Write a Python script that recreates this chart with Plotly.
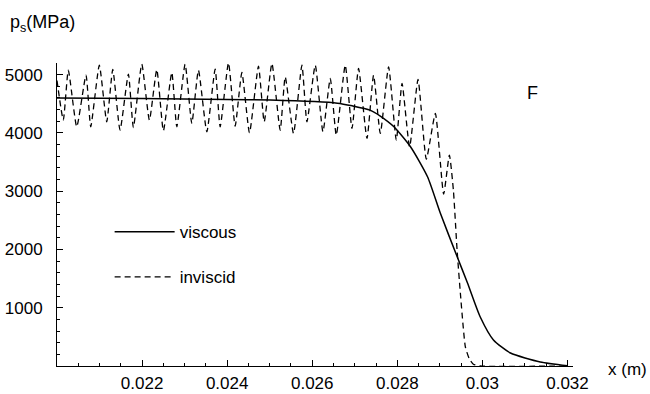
import numpy as np
import plotly.graph_objects as go

# ---- data (x in m, p_s in MPa) ----
viscous_x = [0.0200, 0.0220, 0.0240, 0.02501, 0.02659, 0.02694, 0.02736, 0.02760,
             0.02792, 0.02831, 0.02871, 0.02901, 0.02941, 0.02965, 0.02995,
             0.03026, 0.03066, 0.03136, 0.0320]
viscous_p = [4600, 4590, 4575, 4563, 4511, 4465, 4391, 4288,
             4105, 3762, 3247, 2624, 1870, 1424, 840,
             446, 223, 70, 5]

inviscid_x = [0.020000, 0.020148, 0.020266, 0.020464, 0.020682, 0.020793, 0.020995,
              0.021169, 0.021311, 0.021482, 0.021678, 0.021795, 0.021993, 0.022172,
              0.022346, 0.022501, 0.022699, 0.022816, 0.023012, 0.023169, 0.023325,
              0.023522, 0.023718, 0.023835, 0.024031, 0.024188, 0.024346, 0.024525,
              0.024736, 0.024871, 0.025052, 0.025247, 0.025365, 0.025560, 0.025758,
              0.025875, 0.026071, 0.026252, 0.026424, 0.026565, 0.026776, 0.026934,
              0.027089, 0.027287, 0.027442, 0.027600, 0.027795, 0.027976, 0.028111,
              0.028289, 0.028487, 0.028682, 0.028894, 0.029089, 0.029224, 0.029318,
              0.029405, 0.029482, 0.029600, 0.029694, 0.029788, 0.029953, 0.032000]
inviscid_p = [4900, 4220, 5077, 4105, 4991, 4105, 5163,
              4191, 5089, 4048, 5009, 4093, 5180, 4220,
              5089, 4036, 5037, 4105, 5180, 4163, 5077,
              4020, 5094, 4105, 5203, 4117, 5037, 4002,
              5146, 4191, 5192, 4048, 4962, 3991, 5163,
              4191, 5163, 4020, 4934, 3962, 5163, 4077,
              5106, 3905, 4991, 3991, 5134, 3877, 4849,
              3762, 4917, 3550, 4334, 2950, 3619, 3019,
              1990, 1252, 326, 120, 30, 0, 0]

x_tickvals = [0.022, 0.024, 0.026, 0.028, 0.030, 0.032]
x_ticktext = ["0.022", "0.024", "0.026", "0.028", "0.03", "0.032"]
y_tickvals = [1000, 2000, 3000, 4000, 5000]
y_ticktext = ["1000", "2000", "3000", "4000", "5000"]

FONT = "Liberation Sans, Arial, Helvetica, sans-serif"

fig = go.Figure()
fig.add_trace(go.Scatter(x=viscous_x, y=viscous_p, mode="lines", name="viscous",
                         line=dict(color="black", width=1.5, shape="spline", smoothing=0.6),
                         legendgroup="a"))
fig.add_trace(go.Scatter(x=inviscid_x, y=inviscid_p, mode="lines", name="inviscid",
                         line=dict(color="black", width=1.3, dash="6px,4px",
                                   shape="spline", smoothing=0.5),
                         legendgroup="b"))

fig.update_layout(
    width=650, height=394,
    margin=dict(l=57, r=77, t=63, b=28, autoexpand=False),
    paper_bgcolor="white", plot_bgcolor="white",
    font=dict(family=FONT, size=17, color="black"),
    showlegend=True,
    legend=dict(x=0.102, y=0.501, xanchor="left", yanchor="top",
                bgcolor="rgba(0,0,0,0)", font=dict(size=17),
                itemwidth=60, tracegroupgap=20, traceorder="grouped"),
    xaxis=dict(range=[0.020, 0.03213], showgrid=False, zeroline=False, automargin=False,
               showline=True, linecolor="black", linewidth=1,
               tickmode="array", tickvals=x_tickvals, ticktext=x_ticktext,
               ticks="inside", ticklen=6, tickcolor="black", tickwidth=1,
               ticklabelstandoff=2,
               minor=dict(tickmode="array",
                          tickvals=list(np.round(np.arange(0.0205, 0.0321, 0.0005), 5)),
                          ticks="inside", ticklen=3, tickcolor="black", tickwidth=1)),
    yaxis=dict(range=[0, 5200], showgrid=False, zeroline=False, automargin=False,
               showline=True, linecolor="black", linewidth=1,
               tickmode="array", tickvals=y_tickvals, ticktext=y_ticktext,
               ticks="inside", ticklen=6, tickcolor="black", tickwidth=1,
               ticklabelstandoff=10,
               minor=dict(tickmode="array",
                          tickvals=list(np.arange(200, 5200, 200)),
                          ticks="inside", ticklen=3, tickcolor="black", tickwidth=1)),
)

fig.add_annotation(text="p<sub>s</sub>(MPa)", xref="paper", yref="paper",
                   x=-0.095, y=1.13, xanchor="left", yanchor="middle",
                   showarrow=False, font=dict(size=18))
fig.add_annotation(text="x (m)", xref="paper", yref="paper",
                   x=1.063, y=-0.01, xanchor="left", yanchor="middle",
                   showarrow=False, font=dict(size=17))
fig.add_annotation(text="F", xref="paper", yref="paper",
                   x=0.921, y=0.90, xanchor="center", yanchor="middle",
                   showarrow=False, font=dict(size=18))

fig.write_html("out.html")
